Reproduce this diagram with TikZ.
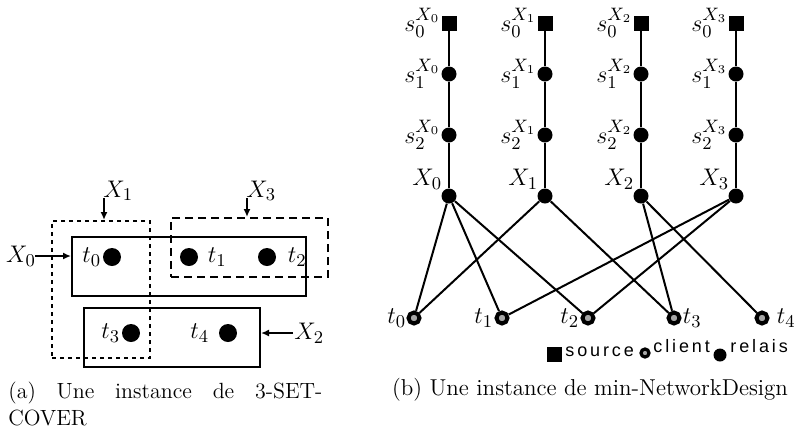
\documentclass[tikz,border=0pt]{standalone}
\usepackage{fontspec}
\newfontfamily\legendfont[LetterSpace=16]{Liberation Sans}
\usetikzlibrary{arrows.meta}
\tikzset{
  setbox/.style={draw, line width=1pt, inner sep=0, rectangle},
  bigdot/.style={circle, fill=black, inner sep=0, minimum size=9pt},
  relay/.style={circle, fill=black, inner sep=0, minimum size=7.5pt},
  client/.style={circle, draw=black, line width=2pt, fill=black!35, inner sep=0, minimum size=5.5pt},
  source/.style={rectangle, fill=black, inner sep=0, minimum size=7.5pt},
  lab/.style={inner sep=0.5pt, font=\fontsize{12.5}{14}\selectfont},
  ptr/.style={line width=1pt, -{Latex[length=4pt,width=3.5pt]}},
  edge/.style={line width=1pt},
  legtext/.style={inner sep=0, font=\legendfont\fontsize{9}{10}\selectfont},
  caption/.style={inner sep=0, font=\fontsize{11}{13.5}\selectfont},
}
\begin{document}
\begin{tikzpicture}[x=0.5pt,y=-0.5pt]
\useasboundingbox (0,0) rectangle (799,435);
% ---------- (a) ----------
\node[setbox, minimum width=117pt, minimum height=29.5pt] (rX0) at (189,266.5) {};
\node[setbox, dash pattern=on 2pt off 2pt, minimum width=49pt, minimum height=68.5pt] (rX1) at (101,289.5) {};
\node[setbox, dash pattern=on 4pt off 2.5pt, minimum width=78.5pt, minimum height=29.5pt] (rX3) at (249.5,247.5) {};
\node[setbox, minimum width=88pt, minimum height=29.5pt] (rX2) at (172,337.5) {};
\node[bigdot] (a0) at (112,257) {};
\node[bigdot] (a1) at (189,257) {};
\node[bigdot] (a2) at (267,257) {};
\node[bigdot] (a3) at (131,333) {};
\node[bigdot] (a4) at (228,333) {};
\node[lab, anchor=east] (la0) at (a0.west) {$t_0$};
\node[lab, anchor=west] (la1) at ([xshift=4pt]a1.east) {$t_1$};
\node[lab, anchor=west] (la2) at ([xshift=5pt]a2.east) {$t_2$};
\node[lab, anchor=east] (la3) at (a3.west) {$t_3$};
\node[lab, anchor=east] (la4) at ([xshift=-4pt]a4.west) {$t_4$};
\node[lab] (lX0) at (21,256) {$X_0$};
\coordinate (sX0) at (35,256);
\draw[ptr] (sX0) -- (sX0 -| rX0.west);
\coordinate (sX1) at (104,198);
\draw[ptr] (sX1) -- (sX1 |- rX1.north);
\node[lab, anchor=south west] (lX1) at ([xshift=-1pt,yshift=-2pt]sX1) {$X_1$};
\coordinate (sX3) at (247,198);
\draw[ptr] (sX3) -- (sX3 |- rX3.north);
\node[lab, anchor=south west] (lX3) at ([xshift=-1pt,yshift=-2pt]sX3) {$X_3$};
\node[lab, anchor=west] (lX2) at (293,333) {$X_2$};
\draw[ptr] (lX2.west) -- (lX2.west -| rX2.east);
\node[caption, anchor=north west, text width=157pt, align=justify] (capA) at (8,382)
  {(a) Une instance de 3-SET-\linebreak COVER};
% ---------- (b) ----------
\foreach \i/\x in {0/449,1/545,2/641,3/736}{
  \node[source] (s0\i) at (\x,23) {};
  \node[relay] (s1\i) at (\x,74) {};
  \node[relay] (s2\i) at (\x,135) {};
  \node[relay] (X\i) at (\x,196) {};
  \draw[edge] (s0\i) -- (s1\i) -- (s2\i) -- (X\i);
  \node[lab, anchor=east, inner sep=0.3pt] (ls0\i) at (s0\i.west) {$s_0^{X_\i}$};
  \node[lab, anchor=east, inner sep=0.3pt] (ls1\i) at (s1\i.west) {$s_1^{X_\i}$};
  \node[lab, anchor=east, inner sep=0.3pt] (ls2\i) at (s2\i.west) {$s_2^{X_\i}$};
  \node[lab, anchor=south east, inner sep=0.5pt] (lX\i) at (X\i.north west) {$X_\i$};
}
\foreach \i/\x in {0/414,1/502,2/588,3/674,4/762}{
  \node[client] (t\i) at (\x,318) {};
}
\node[lab, anchor=east, inner sep=0pt] (lt0) at (t0.west) {$t_0$};
\node[lab, anchor=east, inner sep=0.5pt] (lt1) at (t1.west) {$t_1$};
\node[lab, anchor=east, inner sep=0.5pt] (lt2) at (t2.west) {$t_2$};
\node[lab, anchor=west, inner sep=0.5pt] (lt3) at (t3.east) {$t_3$};
\node[lab, anchor=west, inner sep=0.5pt] (lt4) at ([xshift=3pt]t4.east) {$t_4$};
\foreach \a/\b in {X0/t0,X0/t1,X0/t2,X1/t0,X1/t3,X2/t3,X2/t4,X3/t1,X3/t2}{
  \draw[edge] (\a) -- (\b);
}
% legend
\node[source] (legS) at (554.5,354.5) {};
\node[legtext, anchor=base west] (legSt) at (565,356) {source};
\node[client, minimum size=4pt, line width=1.6pt] (legC) at (645,353) {};
\node[legtext, anchor=base west] (legCt) at (653,352) {client};
\node[relay, minimum size=6.5pt] (legR) at (720,355) {};
\node[legtext, anchor=base west] (legRt) at (730,352) {relais};
\node[caption, font=\fontsize{11.5}{13.5}\selectfont] (capB) at (590,390) {(b) Une instance de min-NetworkDesign};
\end{tikzpicture}
\end{document}
